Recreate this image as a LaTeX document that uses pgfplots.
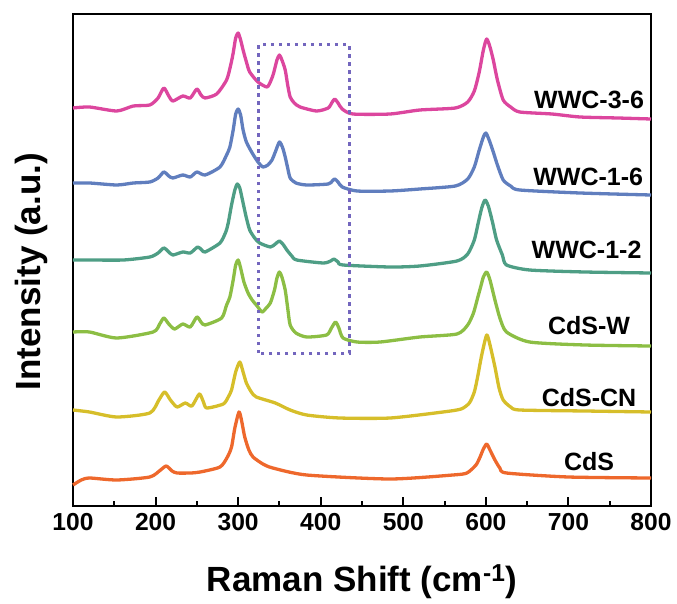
\documentclass[border=0pt]{standalone}
\usepackage{fontspec}
\setmainfont{Liberation Sans}
\usepackage{pgfplots}
\pgfplotsset{compat=1.18}
\definecolor{cpink}{RGB}{220,70,158}
\definecolor{cblue}{RGB}{96,126,190}
\definecolor{cteal}{RGB}{78,158,133}
\definecolor{cgreen}{RGB}{140,190,68}
\definecolor{cyellow}{RGB}{214,190,42}
\definecolor{corange}{RGB}{238,104,44}
\definecolor{cbox}{RGB}{115,102,190}
\begin{document}
\begin{tikzpicture}
\begin{axis}[
  scale only axis, width=578pt, height=492pt,
  xmin=100, xmax=800, ymin=0, ymax=492,
  axis line style={line width=2.5pt},
  xtick={100,200,...,800}, minor x tick num=1,
  ytick=\empty,
  xtick pos=bottom,
  tick align=inside,
  major tick length=9pt, minor tick length=5pt,
  every tick/.style={black, line width=2pt},
  xticklabel style={font=\fontsize{24.6}{28}\selectfont\bfseries, /pgf/number format/assume math mode=true, yshift=-4pt},
  xlabel={Raman Shift (cm\textsuperscript{-1})},
  xlabel style={font=\fontsize{35}{40}\selectfont\bfseries, at={(axis description cs:0.5,0)}, anchor=base, yshift=-85pt},
  ylabel={Intensity (a.u.)},
  ylabel style={font=\fontsize{35}{40}\selectfont\bfseries, at={([xshift=-42pt]axis description cs:0,0.476)}, anchor=center},
  every axis plot/.append style={line width=3.3pt, line join=round, no marks, smooth, tension=0.4},
  clip=false,
]
% CdS
\addplot[corange] coordinates {(100,21)(110,26)(120,28)(153,26)(193,29)(206,36)(213,40)(220,35)(226,33)(242,33)(254,34)(278,39)(287,49)(292,59)(296,78)(301,94)(304,86)(308,69)(313,56)(318,49)(330,42)(342,38)(383,31)(484,27)(560,31)(577,33)(588,41)(593,49)(597,57)(601,62)(605,56)(611,46)(617,38)(625,33)(700,29)(800,28)};
% CdS-CN
\addplot[cyellow] coordinates {(100,96)(120,94)(153,89)(193,93)(204,106)(211,114)(218,106)(226,99)(236,103)(244,100)(253,112)(258,104)(262,98)(282,102)(288,109)(292,116)(297,134)(302,144)(306,134)(310,123)(316,114)(322,109)(345,103)(363,96)(383,91)(423,88)(484,88)(548,94)(570,97)(580,103)(586,114)(590,129)(595,151)(601,171)(605,161)(611,139)(616,118)(621,106)(630,99)(641,96)(720,95)(800,94)};
% CdS-W
\addplot[cgreen] coordinates {(100,174)(120,174)(153,168)(197,174)(205,182)(210,188)(216,182)(223,177)(233,182)(242,179)(250,189)(255,184)(260,181)(280,188)(286,201)(290,209)(294,226)(297,241)(300,246)(303,238)(307,224)(312,213)(317,206)(323,200)(329,194)(334,198)(339,203)(344,216)(347,228)(350,234)(353,229)(357,216)(360,198)(363,181)(370,173)(383,169)(407,171)(413,178)(418,184)(422,178)(427,168)(444,164)(472,164)(520,169)(565,172)(578,181)(585,193)(590,208)(594,220)(597,229)(601,234)(605,226)(611,206)(617,188)(625,174)(653,164)(720,161)(800,160)};
% WWC-1-2
\addplot[cteal] coordinates {(100,246)(120,246)(161,246)(193,249)(203,253)(210,258)(216,254)(221,251)(233,254)(242,253)(251,259)(256,256)(260,254)(278,263)(285,274)(288,283)(292,301)(296,316)(299,322)(302,318)(306,303)(310,288)(314,276)(320,268)(326,263)(339,259)(345,262)(350,265)(355,261)(359,256)(365,250)(371,246)(403,243)(412,245)(416,247)(421,244)(427,241)(484,239)(520,240)(565,245)(578,252)(586,266)(591,284)(595,298)(599,306)(603,300)(608,284)(613,266)(620,251)(625,241)(653,236)(720,234)(800,233)};
% WWC-1-6
\addplot[cblue] coordinates {(100,323)(120,323)(153,321)(173,323)(193,324)(203,328)(210,334)(216,330)(221,328)(233,331)(242,329)(250,334)(260,331)(278,339)(286,351)(290,359)(294,376)(297,392)(300,397)(303,391)(306,376)(310,364)(317,353)(324,344)(330,339)(336,341)(341,346)(345,354)(350,364)(354,358)(357,349)(360,338)(363,328)(370,323)(383,321)(409,322)(414,325)(417,327)(421,324)(426,319)(444,315)(484,315)(520,317)(563,320)(578,327)(586,339)(592,356)(597,369)(600,373)(604,366)(609,354)(614,341)(621,326)(630,320)(641,316)(714,313)(800,311)};
% WWC-3-6
\addplot[cpink] coordinates {(100,398)(120,399)(153,395)(173,400)(193,401)(203,408)(210,418)(216,410)(221,405)(233,410)(242,408)(250,417)(255,411)(260,408)(274,412)(286,426)(291,441)(294,453)(297,468)(300,473)(303,466)(306,456)(310,444)(314,434)(324,424)(335,419)(340,426)(343,433)(347,446)(350,451)(353,446)(357,436)(360,421)(363,409)(368,403)(375,399)(395,395)(409,398)(414,404)(417,407)(421,403)(426,397)(439,392)(484,392)(520,396)(563,398)(578,404)(586,415)(592,434)(597,456)(601,467)(605,459)(609,446)(614,426)(621,406)(630,399)(641,394)(680,392)(714,389)(760,388)(800,387)};
\draw[cbox, line width=3pt, dash pattern=on 3.5pt off 4.5pt] (axis cs:325,153) rectangle (axis cs:435,461);
\begin{scope}[every node/.style={font=\fontsize{25}{28}\selectfont\bfseries, anchor=center}]
\node at (axis cs:725,406) {WWC-3-6};
\node at (axis cs:724,329) {WWC-1-6};
\node at (axis cs:722,256) {WWC-1-2};
\node at (axis cs:725,180) {CdS-W};
\node at (axis cs:725,108) {CdS-CN};
\node at (axis cs:725,44) {CdS};
\end{scope}
\end{axis}
\pgfresetboundingbox
\path[use as bounding box] (-73pt,-97pt) rectangle (604pt,506pt);
\end{tikzpicture}
\end{document}
